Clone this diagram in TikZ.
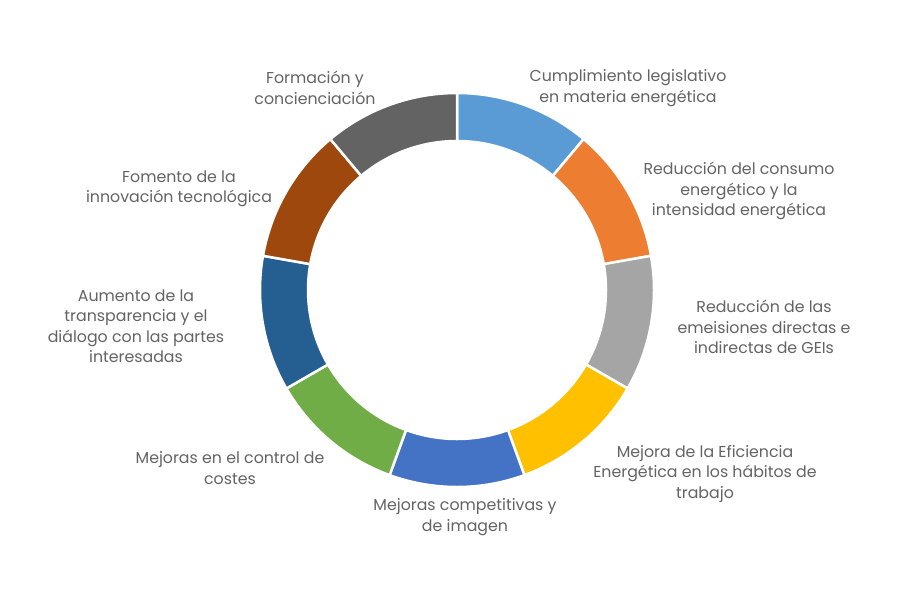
\documentclass[tikz,border=0pt]{standalone}
\usepackage{fontspec}
\setmainfont{Poppins}
\usepackage{xcolor}
\usepackage{tikz}
\usetikzlibrary{calc}
\definecolor{txt}{HTML}{636363}
\definecolor{segA}{HTML}{5B9BD5}
\definecolor{segB}{HTML}{ED7D31}
\definecolor{segC}{HTML}{A5A5A5}
\definecolor{segD}{HTML}{FFC000}
\definecolor{segE}{HTML}{4472C4}
\definecolor{segF}{HTML}{70AD47}
\definecolor{segG}{HTML}{255E91}
\definecolor{segH}{HTML}{9E480E}
\definecolor{segI}{HTML}{636363}

\begin{document}
\begin{tikzpicture}[x=1pt,y=1pt,
  font=\fontsize{15.8}{20.5}\selectfont,
  lbl/.style={align=center, text=txt, inner sep=0pt},
  seg/.style={draw=white, line width=2.5pt, line join=miter}]
\useasboundingbox (0,0) rectangle (900,-600);
\coordinate (ctr) at (457,-290);
% ----- ring of nine sectors
\foreach \c [count=\i from 0] in {segA,segB,segC,segD,segE,segF,segG,segH,segI} {
  \pgfmathsetmacro{\a}{90-40*\i}
  \pgfmathsetmacro{\b}{50-40*\i}
  \path[seg, fill=\c] ($(ctr)+(\a:197)$) arc[start angle=\a, end angle=\b, radius=197]
    -- ($(ctr)+(\b:149)$) arc[start angle=\b, end angle=\a, radius=149] -- cycle;
}
% ----- labels
\node[lbl] (cump) at (628,-88) {Cumplimiento legislativo\\en materia energética};
\node[lbl] (cons) at (739,-191) {Reducción del consumo\\energético y la\\intensidad energética};
\node[lbl] (emis) at (764,-327) {Reducción de las\\emeisiones  directas e\\indirectas de GEIs};
\node[lbl] (efic) at (705,-474) {Mejora de la Eficiencia\\Energética en los hábitos de\\trabajo};
\node[lbl] (comp) at (465,-517) {Mejoras competitivas y\\de imagen};
\node[lbl] (cost) at (230,-468) {Mejoras en el control de\\costes};
\node[lbl] (trans) at (136,-326) {Aumento de la\\transparencia y el\\diálogo  con las partes\\interesadas};
\node[lbl] (innov) at (179,-189) {Fomento de la\\innovación tecnológica};
\node[lbl] (form) at (315,-88) {Formación y\\concienciación};
\end{tikzpicture}
\end{document}
